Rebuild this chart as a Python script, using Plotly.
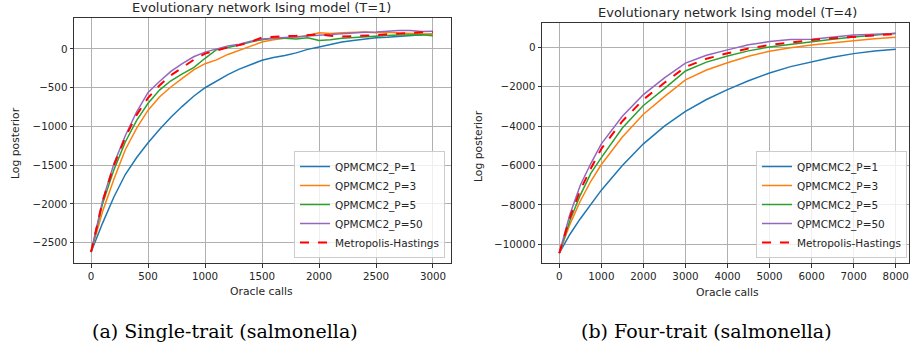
import plotly.graph_objects as go

# ---------------- data: left panel (T=1) ----------------
x_left = [0, 100, 200, 300, 400, 500, 600, 700, 800, 900, 1000, 1100, 1200, 1300, 1400, 1500,
          1600, 1700, 1800, 1900, 2000, 2100, 2200, 2300, 2400, 2500, 2600, 2700, 2800, 2900, 3000]
left_p1 = [-2620, -2250, -1910, -1620, -1400, -1210, -1040, -880, -740, -610, -500, -410, -330, -260, -200, -145,
           -110, -85, -50, -5, 25, 55, 90, 110, 125, 145, 150, 160, 175, 185, 195]
left_p3 = [-2620, -2100, -1680, -1300, -1020, -790, -620, -490, -380, -270, -190, -140, -70, -20, 30, 90,
           120, 140, 150, 170, 210, 200, 210, 215, 220, 210, 215, 205, 200, 195, 190]
left_p5 = [-2620, -2000, -1560, -1200, -920, -700, -530, -410, -320, -240, -120, -10, 20, 50, 90, 120,
           140, 140, 130, 145, 110, 120, 140, 150, 160, 170, 175, 180, 180, 185, 170]
left_p50 = [-2620, -1960, -1480, -1120, -810, -560, -420, -290, -190, -100, -40, 0, 40, 60, 100, 130,
            140, 150, 160, 165, 180, 190, 200, 210, 215, 220, 230, 240, 240, 225, 230]
left_mh = [-2620, -1970, -1500, -1140, -850, -630, -470, -340, -240, -140, -60, -20, 20, 50, 90, 150,
           160, 165, 170, 180, 190, 170, 160, 165, 170, 180, 190, 200, 210, 215, 215]

# ---------------- data: right panel (T=4) ----------------
x_right = [0, 250, 500, 750, 1000, 1500, 2000, 2500, 3000, 3500, 4000, 4500, 5000, 5500, 6000,
           6500, 7000, 7500, 8000]
right_p1 = [-10450, -9500, -8700, -7950, -7250, -6000, -4900, -4000, -3250, -2650, -2150, -1700, -1300,
            -980, -730, -500, -320, -190, -100]
right_p3 = [-10450, -9000, -7800, -6800, -5950, -4550, -3400, -2500, -1650, -1150, -780, -450, -200,
            -20, 120, 240, 340, 430, 510]
right_p5 = [-10450, -8800, -7500, -6400, -5600, -4100, -2950, -2100, -1200, -750, -440, -180, 20,
            160, 290, 410, 520, 620, 710]
right_p50 = [-10450, -8500, -7000, -5900, -4900, -3500, -2400, -1550, -800, -400, -130, 130, 290,
             400, 410, 520, 630, 670, 700]
right_mh = [-10450, -8650, -7250, -6150, -5150, -3750, -2650, -1800, -1000, -580, -300, -60, 120,
            260, 370, 460, 540, 620, 680]

left_xticks = [0, 500, 1000, 1500, 2000, 2500, 3000]
left_yticks = [-2500, -2000, -1500, -1000, -500, 0]
right_xticks = [0, 1000, 2000, 3000, 4000, 5000, 6000, 7000, 8000]
right_yticks = [-10000, -8000, -6000, -4000, -2000, 0]

names = ["QPMCMC2_P=1", "QPMCMC2_P=3", "QPMCMC2_P=5", "QPMCMC2_P=50", "Metropolis-Hastings"]
colors = ["#1f77b4", "#ff7f0e", "#2ca02c", "#9467bd", "#ff0000"]

left_series = [left_p1, left_p3, left_p5, left_p50, left_mh]
right_series = [right_p1, right_p3, right_p5, right_p50, right_mh]

FONT = "DejaVu Sans"
W, H = 912, 349


def lab(v):
    return ("\u2212" + str(-v)) if v < 0 else str(v)


fig = go.Figure()
for i, (nm, c, ys) in enumerate(zip(names, colors, left_series)):
    dash = "dash" if i == 4 else "solid"
    lw = 2 if i == 4 else 1.5
    fig.add_trace(go.Scatter(x=x_left, y=ys, mode="lines", name=nm, xaxis="x", yaxis="y",
                             line=dict(color=c, width=lw, dash=dash), legend="legend"))
for i, (nm, c, ys) in enumerate(zip(names, colors, right_series)):
    dash = "dash" if i == 4 else "solid"
    lw = 2 if i == 4 else 1.5
    fig.add_trace(go.Scatter(x=x_right, y=ys, mode="lines", name=nm, xaxis="x2", yaxis="y2",
                             line=dict(color=c, width=lw, dash=dash), legend="legend2"))


def px(x):
    return x / W


def py(y):
    return 1 - y / H


axis_common = dict(showline=True, mirror=True, linecolor="#333333", linewidth=1,
                   showgrid=True, gridcolor="#b0b0b0", gridwidth=1, zeroline=False,
                   ticks="outside", ticklen=3.5, tickcolor="#333333",
                   ticklabeloverflow="allow",
                   tickfont=dict(family=FONT, size=10.3, color="#262626"))

legend_common = dict(xanchor="right", yanchor="bottom",
                     bgcolor="rgba(255,255,255,0.8)", bordercolor="#cccccc", borderwidth=1,
                     font=dict(family=FONT, size=10.5, color="#262626"), tracegroupgap=0,
                     itemwidth=30)

fig.update_layout(
    width=W, height=H,
    margin=dict(l=0, r=0, t=0, b=0),
    paper_bgcolor="white", plot_bgcolor="white",
    font=dict(family=FONT, size=10, color="#262626"),
    xaxis=dict(domain=[px(74), px(451)], range=[-150, 3158], anchor="y",
               tickvals=left_xticks, ticktext=[lab(v) for v in left_xticks], **axis_common),
    yaxis=dict(domain=[py(263), py(18)], range=[-2762, 400], anchor="x",
               tickvals=left_yticks, ticktext=[lab(v) for v in left_yticks], **axis_common),
    xaxis2=dict(domain=[px(542), px(909)], range=[-411, 8316], anchor="y2",
                tickvals=right_xticks, ticktext=[lab(v) for v in right_xticks], **axis_common),
    yaxis2=dict(domain=[py(263), py(22.7)], range=[-10949, 1250], anchor="x2",
                tickvals=right_yticks, ticktext=[lab(v) for v in right_yticks], **axis_common),
    legend=dict(x=px(445), y=py(258), **legend_common),
    legend2=dict(x=px(907), y=py(258), **legend_common),
    showlegend=True,
)

ann = []


def add_text(x, y, text, size, family=FONT, angle=0, color="#262626"):
    ann.append(dict(x=px(x), y=py(y), xref="paper", yref="paper", text=text, showarrow=False,
                    xanchor="center", yanchor="middle", textangle=angle,
                    font=dict(family=family, size=size, color=color)))


add_text(261, 8, "Evolutionary network Ising model (T=1)", 13)
add_text(727, 12, "Evolutionary network Ising model (T=4)", 13)
add_text(261, 291, "Oracle calls", 10.8)
add_text(727, 292, "Oracle calls", 10.8)
add_text(15, 143, "Log posterior", 10.8, angle=-90)
add_text(478, 146, "Log posterior", 10.8, angle=-90)
add_text(225, 331, "(a) Single-trait (salmonella)", 19, family="DejaVu Serif", color="black")
add_text(706, 331, "(b) Four-trait (salmonella)", 19, family="DejaVu Serif", color="black")
fig.update_layout(annotations=ann)

fig.write_html("out.html", config={"displayModeBar": False},
               post_script="document.body.style.margin='0';document.body.style.overflow='hidden';")
